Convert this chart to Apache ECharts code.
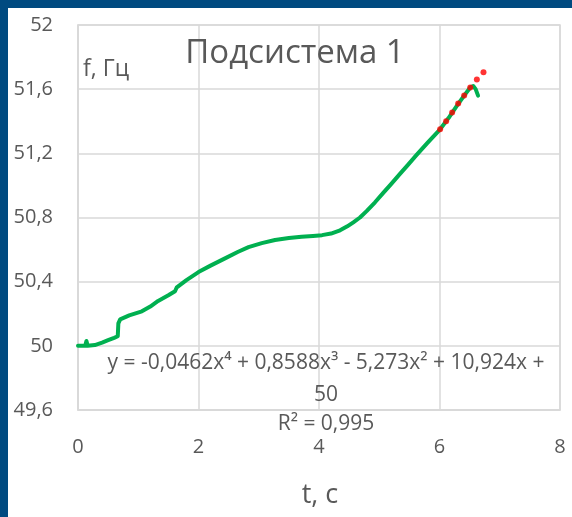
<!DOCTYPE html>
<html>
<head>
<meta charset="utf-8">
<script src="https://cdn.jsdelivr.net/npm/echarts@6/dist/echarts.min.js"></script>
<style>
html,body{margin:0;padding:0;width:572px;height:517px;overflow:hidden;background:#004a80;}
#chart{position:absolute;left:8px;top:8px;width:564px;height:509px;background:#ffffff;}
</style>
</head>
<body>
<div id="chart"></div>
<script>
// Measured data (t, s ; f, Hz)
const freqData = [
  [0,50],[0.12,50],[0.14,50.03],[0.16,50.0],[0.28,50.005],[0.4,50.02],[0.5,50.035],[0.6,50.05],[0.66,50.06],
  [0.67,50.14],[0.7,50.165],[0.85,50.19],[1.06,50.215],[1.2,50.245],[1.33,50.28],[1.5,50.315],[1.61,50.34],
  [1.64,50.365],[1.8,50.41],[2.0,50.46],[2.2,50.5],[2.44,50.545],[2.65,50.585],[2.83,50.615],[3.05,50.64],
  [3.27,50.66],[3.5,50.672],[3.71,50.68],[3.9,50.685],[4.05,50.69],[4.2,50.70],[4.35,50.72],[4.47,50.745],
  [4.57,50.77],[4.68,50.80],[4.79,50.84],[4.93,50.895],[5.07,50.955],[5.2,51.01],[5.34,51.07],[5.48,51.13],
  [5.62,51.19],[5.8,51.265],[6.01,51.35],[6.15,51.42],[6.29,51.497],[6.4,51.555],[6.51,51.61],[6.56,51.62],
  [6.6,51.6],[6.64,51.56]
];
const trendDots = [
  [6.01,51.35],[6.11,51.40],[6.21,51.455],[6.31,51.51],[6.41,51.56],[6.51,51.61],[6.62,51.66],[6.73,51.705]
];
const xTicks = [0, 2, 4, 6, 8];
const yTickLabels = {'49.6':'49,6','50':'50','50.4':'50,4','50.8':'50,8','51.2':'51,2','51.6':'51,6','52':'52'};
const titleText = 'Подсистема 1';
const yName = 'f, Гц';
const xName = 't, c';
const eqLine1 = 'y = -0,0462x⁴ + 0,8588x³ - 5,273x² + 10,924x +';
const eqLine2 = '50';
const r2Text = 'R² = 0,995';

const FONT = '"Open Sans", "Liberation Sans", sans-serif';
const TXT = '#595959';
const GRIDC = '#d9d9d9';

const chart = echarts.init(document.getElementById('chart'), null, {renderer:'canvas'});
chart.setOption({
  animation:false,
  backgroundColor:'#ffffff',
  grid:{left:70, right:12, top:17, bottom:107, show:true, borderColor:GRIDC, borderWidth:1.5, containLabel:false},
  xAxis:{
    type:'value', min:xTicks[0], max:xTicks[xTicks.length-1], interval:2,
    axisLine:{show:true, lineStyle:{color:GRIDC, width:1.5}},
    axisTick:{show:false},
    splitLine:{show:true, lineStyle:{color:GRIDC, width:1.5}},
    axisLabel:{color:TXT, fontSize:20, fontFamily:FONT, margin:27}
  },
  yAxis:{
    type:'value', min:49.6, max:52, interval:0.4,
    axisLine:{show:true, lineStyle:{color:GRIDC, width:1.5}},
    axisTick:{show:false},
    splitLine:{show:true, lineStyle:{color:GRIDC, width:1.5}},
    axisLabel:{color:TXT, fontSize:20, fontFamily:FONT, margin:25,
      formatter:function(v){ const k = String(Math.round(v*10)/10); return yTickLabels[k] !== undefined ? yTickLabels[k] : k.replace('.',','); }}
  },
  series:[
    {type:'line', data:freqData, showSymbol:false, smooth:false,
     lineStyle:{color:'#00b050', width:4, cap:'round', join:'round'}, z:2},
    {type:'scatter', data:trendDots, symbol:'circle', symbolSize:6,
     itemStyle:{color:'#ff0000'}, z:3}
  ],
  graphic:[
    {type:'text', x:287, y:46, z:10, style:{text:titleText, fill:TXT, font:'33px '+FONT, textAlign:'center', textVerticalAlign:'middle'}},
    {type:'text', x:75, y:61, z:10, style:{text:yName, fill:TXT, font:'23px '+FONT, textAlign:'left', textVerticalAlign:'middle'}},
    {type:'text', x:318, y:355, z:10, style:{text:eqLine1, fill:TXT, font:'21px '+FONT, textAlign:'center', textVerticalAlign:'middle'}},
    {type:'text', x:318, y:387, z:10, style:{text:eqLine2, fill:TXT, font:'21px '+FONT, textAlign:'center', textVerticalAlign:'middle'}},
    {type:'text', x:318, y:416, z:10, style:{text:r2Text, fill:TXT, font:'21px '+FONT, textAlign:'center', textVerticalAlign:'middle'}},
    {type:'text', x:312, y:487, z:10, style:{text:xName, fill:TXT, font:'27px '+FONT, textAlign:'center', textVerticalAlign:'middle'}}
  ]
});
</script>
</body>
</html>
